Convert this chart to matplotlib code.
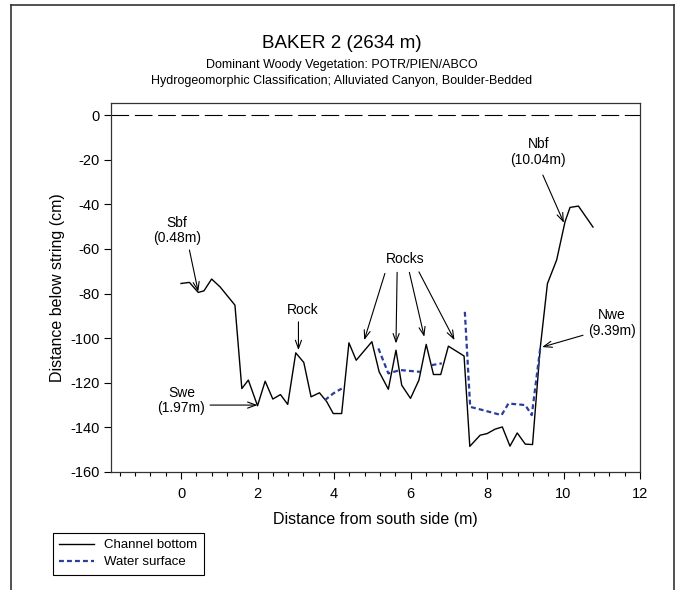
import numpy as np
import matplotlib.pyplot as plt
from matplotlib.lines import Line2D

plt.rcParams['font.family'] = ['Liberation Sans', 'DejaVu Sans']
plt.rcParams['axes.unicode_minus'] = False

# channel bottom profile (m from south side, cm below string)
bottom_x = [0.0, 0.22, 0.45, 0.6, 0.8, 1.02, 1.41, 1.59, 1.76, 2.0, 2.2, 2.4, 2.6, 2.79,
            3.0, 3.21, 3.4, 3.62, 3.81, 3.98, 4.2, 4.39, 4.58, 4.99, 5.18, 5.42, 5.62,
            5.77, 6.0, 6.22, 6.41, 6.6, 6.79, 6.99, 7.4, 7.55, 7.82, 8.0, 8.21, 8.4,
            8.6, 8.79, 9.0, 9.19, 9.39, 9.58, 9.82, 10.04, 10.17, 10.39, 10.77]
bottom_y = [-75.5, -75.0, -79.5, -78.8, -73.5, -77.0, -85.2, -122.6, -118.8, -130.3,
            -119.3, -127.3, -125.3, -129.7, -106.6, -110.9, -126.3, -124.5, -128.5,
            -133.8, -133.8, -102.1, -109.9, -101.6, -115.1, -122.9, -105.4, -121.1,
            -127.0, -118.8, -102.8, -116.3, -116.3, -103.6, -108.0, -148.5, -143.5,
            -142.8, -140.8, -139.8, -148.4, -142.5, -147.5, -147.7, -104.6, -75.5,
            -65.0, -47.8, -41.4, -40.8, -50.2]

# water surface, broken where rocks stick out
water_x = [3.76, 3.98, 4.2, np.nan, 5.16, 5.42, 5.73, 6.25, np.nan, 6.55, 6.82, np.nan,
           7.42, 7.56, 7.9, 8.38, 8.56, 9.0, 9.17, 9.39]
water_y = [-127.8, -124.8, -122.6, np.nan, -104.6, -115.8, -114.3, -115.1, np.nan,
           -112.1, -111.3, np.nan, -88.2, -130.8, -132.3, -134.5, -129.3, -130.0,
           -134.5, -104.6]

fig = plt.figure(figsize=(6.84, 5.90), dpi=100)
ax = fig.add_axes([0.1623, 0.2, 0.7734, 0.6254])

ax.axhline(0, color='black', lw=0.8, dashes=(15.9, 5.1))
l1, = ax.plot(bottom_x, bottom_y, color='black', lw=1.0, label='Channel bottom')
l2, = ax.plot(water_x, water_y, color='#2b3c9c', lw=1.6, dashes=(2.2, 1.4),
              label='Water surface')

ax.set_xlim(-1.83, 12)
ax.set_ylim(-160, 5.4)
ax.set_xticks(np.arange(0, 13, 2))
ax.set_xticks(np.arange(-1.6, 12, 0.4), minor=True)
ax.set_yticks(np.arange(-160, 1, 20))
ax.tick_params(direction='out', length=5, width=0.8, labelsize=10.5, pad=3)
ax.tick_params(axis='x', pad=6)
ax.tick_params(which='minor', direction='out', length=3, width=0.8)
for s in ax.spines.values():
    s.set_linewidth(0.9)
    s.set_color('#333333')

ax.set_xlabel('Distance from south side (m)', fontsize=11.5, labelpad=8)
ax.set_ylabel('Distance below string (cm)', fontsize=11.5, labelpad=4)

fig.text(0.5, 1 - 44 / 590, 'BAKER 2 (2634 m)', ha='center', va='center', fontsize=13.5)
fig.text(0.5, 1 - 65 / 590, 'Dominant Woody Vegetation: POTR/PIEN/ABCO',
         ha='center', va='center', fontsize=9)
fig.text(0.5, 1 - 81 / 590,
         'Hydrogeomorphic Classification; Alluviated Canyon, Boulder-Bedded',
         ha='center', va='center', fontsize=9)

# labels and arrows
arrow = dict(arrowstyle='->,head_length=0.6,head_width=0.22', color='black',
             lw=0.8, shrinkA=0, shrinkB=0)
notes = [
    ('Sbf\n(0.48m)', (-0.10, -51.8), [((0.22, -60.5), (0.45, -79.2))]),
    ('Swe\n(1.97m)', (0.01, -128.0), [((0.76, -130.0), (2.0, -130.0))]),
    ('Rock', (3.17, -87.4), [((3.07, -92.7), (3.07, -105.4))]),
    ('Rocks', (5.86, -64.6), [((5.33, -71.0), (4.79, -100.9)),
                              ((5.65, -70.5), (5.62, -102.4)),
                              ((5.97, -70.5), (6.36, -99.4)),
                              ((6.22, -70.3), (7.15, -100.9))]),
    ('Nbf\n(10.04m)', (9.34, -16.6), [((9.46, -26.9), (10.01, -48.3))]),
    ('Nwe\n(9.39m)', (11.27, -93.3), [((10.51, -98.7), (9.44, -104.0))]),
]
for label, pos, arrows in notes:
    ax.text(pos[0], pos[1], label, ha='center', va='center', fontsize=10,
            linespacing=1.15)
    for tail, head in arrows:
        ax.annotate('', xy=head, xytext=tail, arrowprops=arrow)

leg = fig.legend(handles=[l1, l2], loc='upper left',
                 bbox_to_anchor=(46 / 684, 1 - 526 / 590), fontsize=9.5,
                 fancybox=False, framealpha=1, edgecolor='black',
                 handlelength=2.6, borderpad=0.5, labelspacing=0.35)
leg.get_frame().set_linewidth(0.8)

# outer frame (open at the bottom)
fx0, fx1, fy1 = 11 / 684, 674 / 684, 1 - 5 / 590
for xs, ys in [([fx0, fx0], [0, fy1]), ([fx0, fx1], [fy1, fy1]), ([fx1, fx1], [fy1, 0])]:
    fig.add_artist(Line2D(xs, ys, transform=fig.transFigure, color='#333333', lw=1.2))

fig.savefig('out.png', dpi=100)
